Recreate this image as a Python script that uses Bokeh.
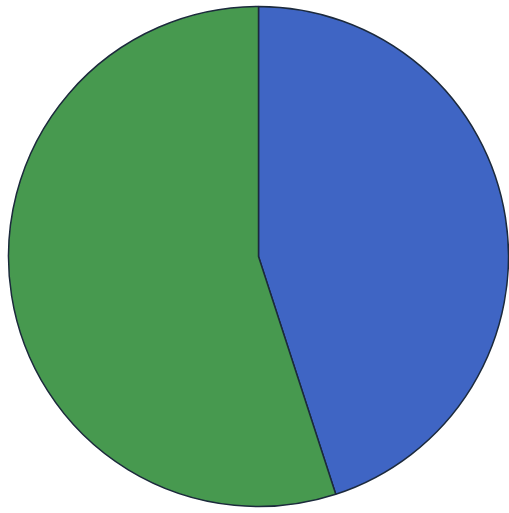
import math
from bokeh.plotting import figure
from bokeh.models import ColumnDataSource
from bokeh.embed import file_html
from bokeh.resources import INLINE

categories = ["Blue", "Green"]
values = [45.0, 55.0]
colors = ["#3f65c4", "#47994f"]

total = sum(values)
starts, ends = [], []
acc = 0.0
for v in values:
    a0 = math.pi / 2 - 2 * math.pi * acc / total
    acc += v
    a1 = math.pi / 2 - 2 * math.pi * acc / total
    starts.append(a0)
    ends.append(a1)

src = ColumnDataSource(dict(cat=categories, val=values, start=starts, end=ends, color=colors))

W, H = 509, 513
p = figure(width=W, height=H, x_range=(0, W), y_range=(0, H),
           output_backend="svg", toolbar_location=None, min_border=0)
p.axis.visible = False
p.grid.visible = False
p.outline_line_color = None
p.background_fill_color = "white"
p.border_fill_color = "white"

p.wedge(x=258, y=H - 256, radius=250, start_angle="start", end_angle="end",
        direction="clock", fill_color="color", line_color="#1c2a3c", line_width=1.5,
        source=src)

open("out.html", "w").write(file_html(p, INLINE))
